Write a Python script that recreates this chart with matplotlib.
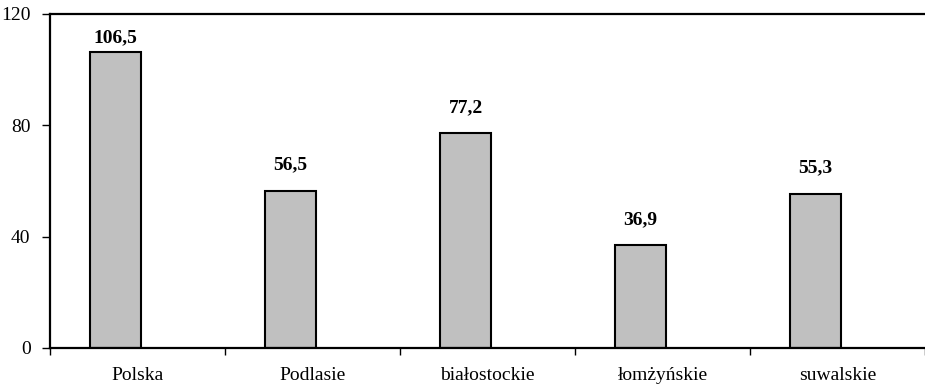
import numpy as np
import matplotlib.pyplot as plt

regions = ['Polska', 'Podlasie', 'białostockie', 'łomżyńskie', 'suwalskie']
values = [106.5, 56.5, 77.2, 36.9, 55.3]
yticks = [0, 40, 80, 120]

plt.rcParams['font.family'] = ['Liberation Serif', 'DejaVu Serif']

fig = plt.figure(figsize=(9.25, 3.89), dpi=100)
ax = fig.add_axes([50 / 925, 41 / 389, 875 / 925, 334 / 389])

x = np.arange(len(regions))
# bars sit a little left of the category centre
bar_x = x - 0.125
ax.bar(bar_x, values, width=0.29, color='#c0c0c0', edgecolor='black', linewidth=1.5, zorder=2)

# value labels float above the bars but are kept inside the plot area
for xi, v in zip(bar_x, values):
    ly = min(v + 9.3, 111.5)
    ax.text(xi, ly, f'{v:.1f}'.replace('.', ','), ha='center', va='center',
            fontsize=14, fontweight='bold')

ax.set_xlim(-0.5, len(regions) - 0.5)
ax.set_ylim(0, 120)
ax.set_yticks(yticks)
ax.set_yticklabels([str(t) for t in yticks], fontsize=14)

# category boundaries get the tick marks, names sit at the centres
ax.set_xticks(np.arange(-0.5, len(regions), 1.0))
ax.set_xticklabels([])
ax.set_xticks(x, minor=True)
ax.set_xticklabels(regions, minor=True, fontsize=14)
ax.tick_params(axis='x', which='major', length=5, width=1, direction='out')
ax.tick_params(axis='x', which='minor', length=0, pad=14)
ax.tick_params(axis='y', length=6, width=1, direction='out', pad=8)

ax.spines['right'].set_visible(False)
for side in ['left', 'top', 'bottom']:
    ax.spines[side].set_linewidth(1.6)

fig.savefig('out.png', dpi=100)
